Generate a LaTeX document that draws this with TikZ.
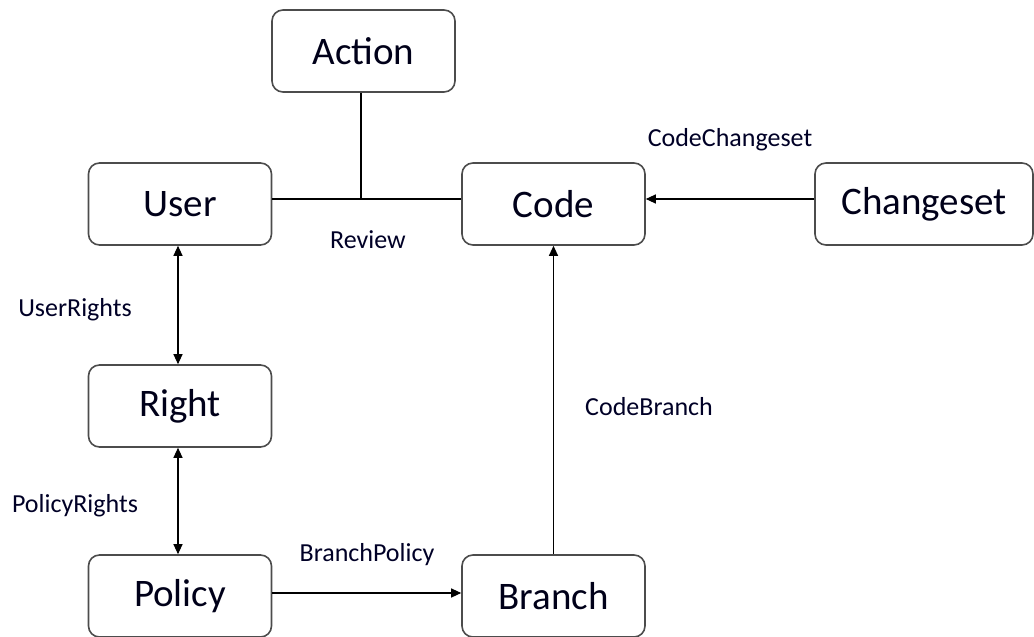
\documentclass[tikz,border=0pt]{standalone}
\usepackage{fontspec}
\setmainfont{Carlito}
\usetikzlibrary{arrows.meta}
\begin{document}
\begin{tikzpicture}[x=1pt,y=-1pt,
  box/.style={draw=black!70,line width=1.6pt,rounded corners=11pt,minimum width=183pt,minimum height=82pt,inner sep=0pt,font=\fontsize{39}{44}\selectfont,text=black!90!blue},
  lbl/.style={font=\fontsize{26}{30}\selectfont,text=black!85!blue,inner sep=0pt},
  conn/.style={line width=1.1pt,black},
  tip/.style={-{Triangle[length=10pt,width=9pt]}},
  tips/.style={{Triangle[length=10pt,width=9pt]}-{Triangle[length=10pt,width=9pt]}}]
\useasboundingbox (0,0) rectangle (1034,637);
\node[box] (action) at (363.5,51) {Action};
\node[box] (user) at (180,204) {User};
\node[box] (code) at (553.5,204) {Code};
\node[box,minimum width=218pt] (changeset) at (924,204) {Changeset};
\node[box] (right) at (180,406) {Right};
\node[box] (policy) at (180,596) {Policy};
\node[box] (branch) at (553.5,596) {Branch};
\coordinate (rv) at (361,199);
\draw[conn] ([yshift=5pt]user.east) -- ([yshift=5pt]code.west);
\draw[conn] (action.south -| rv) -- (rv);
\draw[conn,tip] ([yshift=5pt]changeset.west) -- ([yshift=5pt]code.east);
\draw[conn,tips] ([xshift=-2pt]user.south) -- ([xshift=-2pt]right.north);
\draw[conn,tips] ([xshift=-2pt]right.south) -- ([xshift=-2pt]policy.north);
\draw[conn,tip] (branch.north) -- (code.south);
\draw[conn,tip] ([yshift=3pt]policy.east) -- ([yshift=3pt]branch.west);
\node[lbl] (lreview) at (368,240) {Review};
\node[lbl] (lcc) at (730,140) {CodeChangeset};
\node[lbl] (lur) at (75,310) {UserRights};
\node[lbl] (lcb) at (649,407) {CodeBranch};
\node[lbl] (lpr) at (75,506) {PolicyRights};
\node[lbl] (lbp) at (367,555) {BranchPolicy};
\end{tikzpicture}
\end{document}
